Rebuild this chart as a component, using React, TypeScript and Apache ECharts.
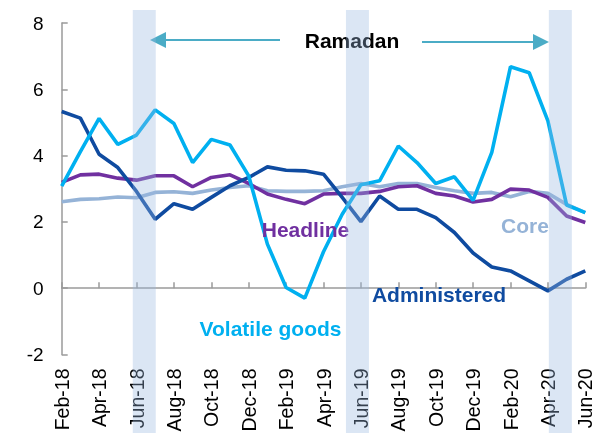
import React, { useEffect, useRef } from "react";
import * as echarts from "echarts";

const months = [
  "Feb-18", "Mar-18", "Apr-18", "May-18", "Jun-18", "Jul-18", "Aug-18", "Sep-18", "Oct-18", "Nov-18", "Dec-18",
  "Jan-19", "Feb-19", "Mar-19", "Apr-19", "May-19", "Jun-19", "Jul-19", "Aug-19", "Sep-19", "Oct-19", "Nov-19", "Dec-19",
  "Jan-20", "Feb-20", "Mar-20", "Apr-20", "May-20", "Jun-20",
];

const headline = [3.19, 3.42, 3.44, 3.32, 3.26, 3.39, 3.39, 3.06, 3.34, 3.42, 3.16, 2.84, 2.68, 2.55, 2.84, 2.86, 2.86, 2.92, 3.06, 3.09, 2.86, 2.78, 2.6, 2.68, 2.99, 2.96, 2.74, 2.18, 1.98];
const core = [2.61, 2.68, 2.7, 2.75, 2.73, 2.89, 2.91, 2.86, 2.96, 3.04, 3.09, 2.94, 2.92, 2.92, 2.94, 3.06, 3.16, 3.06, 3.16, 3.16, 3.04, 2.94, 2.86, 2.89, 2.76, 2.92, 2.86, 2.53, 2.28];
const administered = [5.33, 5.13, 4.04, 3.64, 2.92, 2.08, 2.55, 2.38, 2.74, 3.09, 3.34, 3.66, 3.56, 3.54, 3.44, 2.74, 2.01, 2.78, 2.38, 2.38, 2.13, 1.68, 1.06, 0.64, 0.52, 0.22, -0.08, 0.27, 0.52];
const volatileGoods = [3.08, 4.12, 5.12, 4.34, 4.62, 5.38, 4.97, 3.79, 4.49, 4.32, 3.39, 1.33, 0.02, -0.3, 1.1, 2.23, 3.12, 3.24, 4.29, 3.79, 3.16, 3.36, 2.65, 4.1, 6.68, 6.5, 5.05, 2.51, 2.28];

// Ramadan periods in fractional month index (0 = Feb-18)
const ramadanPeriods = [
  [3.8, 5.03],
  [15.2, 16.43],
  [26.05, 27.28],
];

const yMin = -2;
const yMax = 8;
const yInterval = 2;

const FONT = "'Liberation Sans', Arial, sans-serif";
const ARROW = "#4BACC6";

export default function App() {
  const ref = useRef<HTMLDivElement>(null);

  useEffect(() => {
    if (!ref.current) return;
    const chart = echarts.init(ref.current, undefined, { renderer: "svg" });
    const lineSeries = (name: string, data: number[], color: string) => ({
      name,
      type: "line",
      data,
      symbol: "none",
      smooth: false,
      lineStyle: { color, width: 3.6 },
      itemStyle: { color },
    });
    chart.setOption({
      animation: false,
      grid: { left: 61.7, right: 11.7, top: 23, bottom: 82.5, containLabel: false },
      xAxis: {
        type: "category",
        data: months,
        boundaryGap: false,
        axisLine: { lineStyle: { color: "#9a9a9a", width: 1.5 } },
        axisTick: { show: true, inside: true, length: 6, interval: 1, lineStyle: { color: "#9a9a9a", width: 1.5 } },
        axisLabel: { interval: 1, rotate: 90, fontSize: 19.5, color: "#000", fontFamily: FONT, margin: 14 },
        splitLine: { show: false },
      },
      yAxis: {
        type: "value",
        min: yMin,
        max: yMax,
        interval: yInterval,
        axisLine: { show: true, lineStyle: { color: "#9a9a9a", width: 1.5 } },
        axisTick: { show: true, inside: true, length: 6, lineStyle: { color: "#9a9a9a", width: 1.5 } },
        axisLabel: { fontSize: 19, color: "#000", fontFamily: FONT, margin: 18 },
        splitLine: { show: false },
      },
      series: [
        lineSeries("Core", core, "#95B3D7"),
        lineSeries("Headline", headline, "#7030A0"),
        lineSeries("Administered", administered, "#0F4BA0"),
        lineSeries("Volatile goods", volatileGoods, "#00B0F0"),
      ],
    });

    const x0 = chart.convertToPixel({ xAxisIndex: 0 }, months[0]) as number;
    const xN = chart.convertToPixel({ xAxisIndex: 0 }, months[months.length - 1]) as number;
    const step = (xN - x0) / (months.length - 1);
    const bands = ramadanPeriods.map(([a, b], i) => ({
      type: "rect",
      id: "band" + i,
      z: 100,
      shape: { x: x0 + a * step, y: 10, width: (b - a) * step, height: 423 },
      style: { fill: "rgba(152,184,224,0.35)" },
      silent: true,
    }));
    const label = (text: string, x: number, y: number, color: string, size = 21) => ({
      type: "text",
      z: 50,
      x,
      y,
      style: { text, fill: color, font: `bold ${size}px ${FONT}`, align: "center", verticalAlign: "middle" },
    });
    chart.setOption({
      graphic: [
        { type: "line", z: 50, shape: { x1: 280, y1: 40, x2: 164, y2: 40 }, style: { stroke: ARROW, lineWidth: 2 } },
        { type: "polygon", z: 50, shape: { points: [[150, 40], [166, 32], [166, 48]] }, style: { fill: ARROW } },
        { type: "line", z: 50, shape: { x1: 422, y1: 42, x2: 535, y2: 42 }, style: { stroke: ARROW, lineWidth: 2 } },
        { type: "polygon", z: 50, shape: { points: [[549, 42], [533, 34], [533, 50]] }, style: { fill: ARROW } },
        label("Ramadan", 352, 40, "#000", 21),
        label("Headline", 305.5, 229, "#7030A0"),
        label("Core", 525, 225.5, "#95B3D7"),
        label("Administered", 439, 294.5, "#0F4BA0"),
        label("Volatile goods", 270.5, 328.5, "#00B0F0"),
        ...bands,
      ],
    });
    return () => chart.dispose();
  }, []);

  return <div ref={ref} style={{ position: "fixed", left: 0, top: 0, width: 597, height: 437 }} />;
}
